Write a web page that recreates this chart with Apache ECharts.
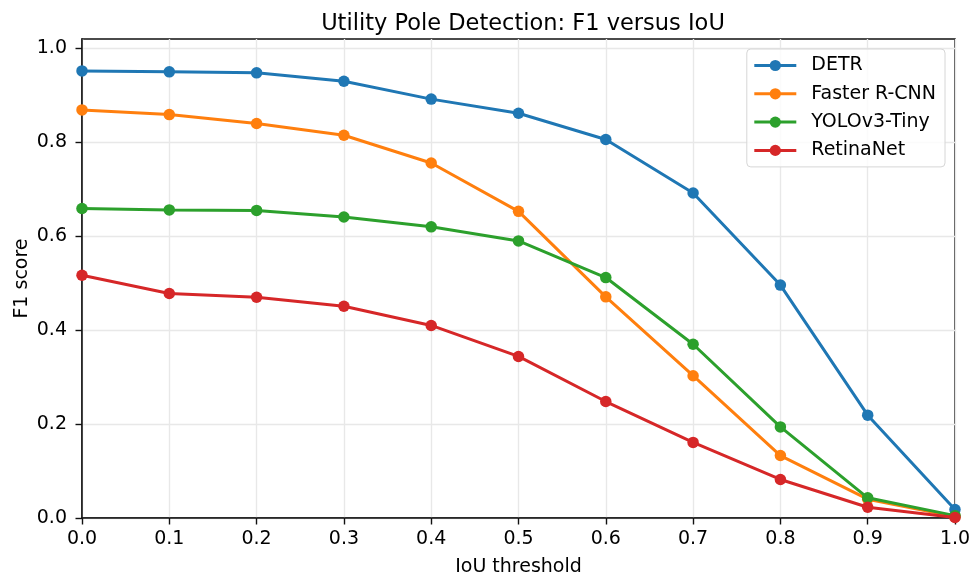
<!DOCTYPE html>
<html>
<head>
<meta charset="utf-8">
<script src="https://cdn.jsdelivr.net/npm/echarts@6/dist/echarts.min.js"></script>
<style>
  html, body { margin: 0; padding: 0; background: #fff; }
  #chart { width: 973px; height: 576px; }
</style>
</head>
<body>
<div id="chart"></div>
<script>
// IoU thresholds on the x axis
const iouThresholds = [0.0, 0.1, 0.2, 0.3, 0.4, 0.5, 0.6, 0.7, 0.8, 0.9, 1.0];

// F1 score per detector at each IoU threshold
const detrF1       = [0.952, 0.950, 0.948, 0.930, 0.892, 0.862, 0.806, 0.692, 0.496, 0.219, 0.018];
const fasterRcnnF1 = [0.869, 0.859, 0.840, 0.815, 0.756, 0.653, 0.471, 0.303, 0.133, 0.040, 0.003];
const yoloTinyF1   = [0.659, 0.656, 0.655, 0.641, 0.620, 0.590, 0.512, 0.370, 0.194, 0.043, 0.005];
const retinaNetF1  = [0.517, 0.478, 0.470, 0.451, 0.410, 0.344, 0.248, 0.161, 0.082, 0.023, 0.001];

const seriesNames = ['DETR', 'Faster R-CNN', 'YOLOv3-Tiny', 'RetinaNet'];
const seriesValues = [detrF1, fasterRcnnF1, yoloTinyF1, retinaNetF1];
const seriesColors = ['#1f77b4', '#ff7f0e', '#2ca02c', '#d62728'];

// Tick positions
const xTicks = [0.0, 0.1, 0.2, 0.3, 0.4, 0.5, 0.6, 0.7, 0.8, 0.9, 1.0];
const yTicks = [0.0, 0.2, 0.4, 0.6, 0.8, 1.0];

const FONT = 'DejaVu Sans';
const LABEL_SIZE = 19;
const chart = echarts.init(document.getElementById('chart'), null, { renderer: 'canvas' });

const series = seriesNames.map((name, i) => ({
  name,
  type: 'line',
  data: iouThresholds.map((x, j) => [x, seriesValues[i][j]]),
  symbol: 'circle',
  symbolSize: 11.5,
  showSymbol: true,
  lineStyle: { width: 3, color: seriesColors[i] },
  itemStyle: { color: seriesColors[i] },
  emphasis: { disabled: true },
  animation: false,
  z: 3 + i
}));

chart.setOption({
  animation: false,
  backgroundColor: '#fff',
  title: {
    text: 'Utility Pole Detection: F1 versus IoU',
    left: 518,
    top: 8,
    textAlign: 'center',
    textStyle: { fontFamily: FONT, fontSize: 22.5, fontWeight: 'normal', color: '#000' }
  },
  legend: {
    orient: 'vertical',
    right: 28,
    top: 49,
    data: seriesNames,
    itemWidth: 42,
    itemHeight: 14,
    itemGap: 9.3,
    padding: [7, 9, 7, 6],
    backgroundColor: 'rgba(255,255,255,0.8)',
    borderColor: '#d6d6d6',
    borderWidth: 1,
    borderRadius: 4,
    lineStyle: { width: 3 },
    textStyle: { fontFamily: FONT, fontSize: LABEL_SIZE, color: '#000', padding: [0, 0, 0, 10] }
  },
  grid: {
    left: 82,
    right: 18,
    top: 39,
    bottom: 58,
    outerBoundsMode: 'none',
    containLabel: false,
    show: true,
    borderColor: '#111',
    borderWidth: 1.5,
    backgroundColor: 'transparent'
  },
  xAxis: {
    type: 'value',
    min: 0,
    max: 1,
    interval: 0.1,
    name: 'IoU threshold',
    nameLocation: 'middle',
    nameGap: 40,
    nameMoveOverlap: false,
    nameTextStyle: { fontFamily: FONT, fontSize: LABEL_SIZE, color: '#000' },
    axisLine: { show: true, onZero: false, lineStyle: { color: '#111', width: 1.5 } },
    axisTick: { show: true, length: 6.5, customValues: xTicks, lineStyle: { color: '#111', width: 1.4 } },
    axisLabel: {
      customValues: xTicks,
      margin: 12,
      fontFamily: FONT, fontSize: LABEL_SIZE, color: '#000',
      formatter: v => v.toFixed(1)
    },
    splitLine: { show: true, lineStyle: { color: '#e8e8e8', width: 1.4 } }
  },
  yAxis: {
    type: 'value',
    min: 0,
    max: 1.02,
    name: 'F1 score',
    nameLocation: 'middle',
    nameGap: 50,
    nameMoveOverlap: false,
    nameRotate: 90,
    nameTextStyle: { fontFamily: FONT, fontSize: LABEL_SIZE, color: '#000' },
    axisLine: { show: true, onZero: false, lineStyle: { color: '#111', width: 1.5 } },
    axisTick: { show: true, length: 6.5, customValues: yTicks, lineStyle: { color: '#111', width: 1.4 } },
    axisLabel: {
      customValues: yTicks,
      margin: 15,
      fontFamily: FONT, fontSize: LABEL_SIZE, color: '#000',
      formatter: v => v.toFixed(1)
    },
    splitLine: { show: true, lineStyle: { color: '#e8e8e8', width: 1.4 } }
  },
  series
});
</script>
</body>
</html>
